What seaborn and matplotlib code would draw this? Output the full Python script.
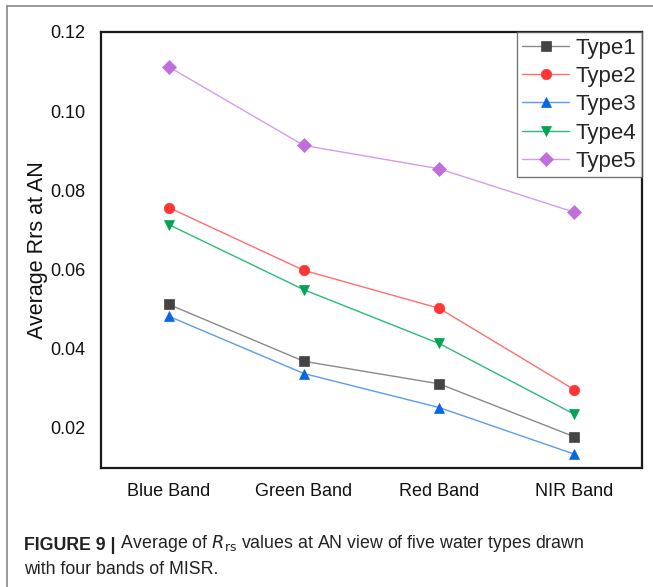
import matplotlib
matplotlib.use("Agg")
import matplotlib.pyplot as plt
from matplotlib.lines import Line2D
import seaborn as sns
import pandas as pd

bands = ["Blue Band", "Green Band", "Red Band", "NIR Band"]
types = ["Type1", "Type2", "Type3", "Type4", "Type5"]
type1 = [0.0511, 0.0367, 0.0310, 0.0176]
type2 = [0.0756, 0.0597, 0.0501, 0.0295]
type3 = [0.0481, 0.0336, 0.0250, 0.0132]
type4 = [0.0713, 0.0548, 0.0412, 0.0233]
type5 = [0.1112, 0.0913, 0.0854, 0.0744]
yticks = [0.02, 0.04, 0.06, 0.08, 0.10, 0.12]

marker_colors = ["#444444", "#ff3535", "#0a66de", "#00a352", "#bf6fdc"]
line_colors = ["#8a8a8a", "#ff6e6e", "#5a9cf0", "#2dbb78", "#d49bf0"]
markers = ["s", "o", "^", "v", "D"]

rows = []
for t, vals in zip(types, [type1, type2, type3, type4, type5]):
    for b, v in zip(bands, vals):
        rows.append({"Band": b, "Type": t, "Rrs": v})
df = pd.DataFrame(rows)

sns.set_theme(style="white")
plt.rcParams["font.family"] = ["Liberation Sans", "DejaVu Sans"]

fig = plt.figure(figsize=(6.53, 5.87), dpi=100)
ax = fig.add_axes([101 / 653, 1 - 468 / 587, (642 - 101) / 653, (468 - 32) / 587])

sns.lineplot(data=df, x="Band", y="Rrs", hue="Type", style="Type",
             hue_order=types, style_order=types,
             palette=dict(zip(types, line_colors)),
             markers=dict(zip(types, markers)), dashes=False,
             markersize=7.5, linewidth=1.0, legend=False, ax=ax, sort=False)

for ln, mc in zip(ax.lines, marker_colors):
    ln.set_markerfacecolor(mc)
    ln.set_markeredgecolor(mc)
    ln.set_markeredgewidth(0.5)

ax.set_xlim(-0.5, 3.5)
ax.set_ylim(0.0097, 0.12)
ax.set_yticks(yticks)
ax.set_yticklabels([f"{v:.2f}" for v in yticks])
ax.tick_params(axis="both", length=0, colors="#111111")
ax.tick_params(axis="y", labelsize=13, pad=11)
ax.tick_params(axis="x", labelsize=13, pad=11)
ax.set_xlabel("")
ax.set_ylabel("Average Rrs at AN", fontsize=15.5, color="#111111", labelpad=1.5)
for s in ax.spines.values():
    s.set_visible(True)
    s.set_color("#1a1a1a")
    s.set_linewidth(1.6)

handles = list(ax.lines[:5])
leg = ax.legend(handles, types, loc="upper right", fontsize=16,
                frameon=True, fancybox=False, borderaxespad=0.0,
                handlelength=2.1, handletextpad=0.3, labelspacing=0.33,
                borderpad=0.25)
leg.get_frame().set_edgecolor("#555555")
leg.get_frame().set_linewidth(1.0)

# figure frame lines (top and left)
fig.add_artist(Line2D([7 / 653, 1.0], [1 - 6 / 587, 1 - 6 / 587], color="#888888", lw=1.2))
fig.add_artist(Line2D([7 / 653, 7 / 653], [0.0, 1 - 6 / 587], color="#888888", lw=1.2))

cap_font = ["Liberation Sans", "DejaVu Sans"]
t1 = fig.text(24 / 653, 1 - 545 / 587, "FIGURE 9 |", fontsize=12.8, fontweight="bold",
              family=cap_font, va="center", ha="left", color="#222222")
ax.annotate(r" Average of $R_{\mathrm{rs}}$ values at AN view of five water types drawn",
            xy=(1, 0), xycoords=t1, va="bottom", ha="left", fontsize=12.8,
            family=cap_font, color="#222222", annotation_clip=False)
fig.text(24 / 653, 1 - 570 / 587, "with four bands of MISR.", fontsize=12.8,
         family=cap_font, va="center", ha="left", color="#222222")

fig.savefig("out.png", dpi=100)
